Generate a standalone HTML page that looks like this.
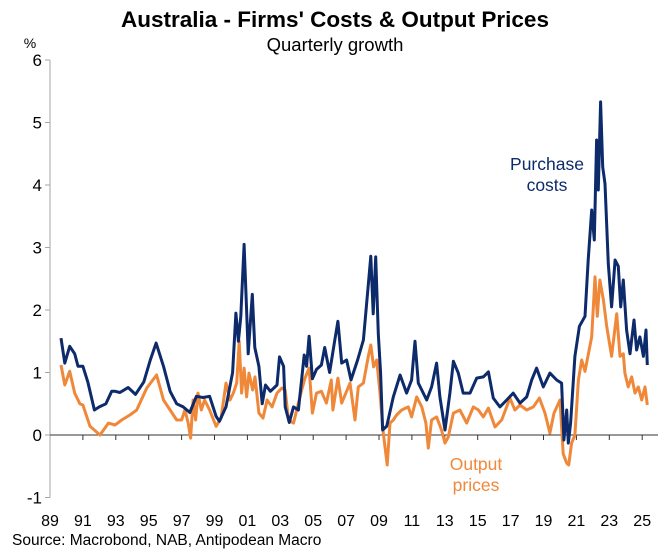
<!DOCTYPE html>
<html><head><meta charset="utf-8">
<style>
body{margin:0;background:#fff;font-family:"Liberation Sans",Arial,sans-serif;}
svg text{font-family:"Liberation Sans",Arial,sans-serif;}
</style></head>
<body>
<svg id="chart" width="670" height="549" viewBox="0 0 670 549" xmlns="http://www.w3.org/2000/svg">
<text x="335" y="27" text-anchor="middle" font-size="22.5" font-weight="bold" fill="#000">Australia - Firms' Costs &amp; Output Prices</text>
<text x="335" y="51" text-anchor="middle" font-size="18.5" fill="#000">Quarterly growth</text>
<text x="30" y="48" text-anchor="middle" font-size="14" fill="#000">%</text>
<g id="axes"></g>
<g id="series"></g>
<text x="547" y="170" text-anchor="middle" font-size="17.5" fill="#0d2a6b">Purchase</text>
<text x="547" y="191" text-anchor="middle" font-size="17.5" fill="#0d2a6b">costs</text>
<text x="476" y="470" text-anchor="middle" font-size="17.5" fill="#f0883a">Output</text>
<text x="476" y="491" text-anchor="middle" font-size="17.5" fill="#f0883a">prices</text>
<text x="12" y="545" font-size="15.5" fill="#000">Source: Macrobond, NAB, Antipodean Macro</text>
</svg>
<script>
const yTicks=[6,5,4,3,2,1,0,-1];
const xTickYears=[1989,1991,1993,1995,1997,1999,2001,2003,2005,2007,2009,2011,2013,2015,2017,2019,2021,2023,2025];
const xTickLabels=["89","91","93","95","97","99","01","03","05","07","09","11","13","15","17","19","21","23","25"];
const purchaseDates=[1989.67,1989.9,1990.2,1990.5,1990.7,1991.0,1991.3,1991.7,1992.0,1992.4,1992.75,1992.95,1993.25,1993.75,1994.2,1994.7,1995.1,1995.45,1995.9,1996.3,1996.7,1997.1,1997.5,1997.9,1998.3,1998.7,1999.1,1999.3,1999.7,2000.1,2000.3,2000.45,2000.6,2000.8,2000.95,2001.05,2001.3,2001.45,2001.7,2001.9,2002.1,2002.4,2002.8,2002.95,2003.2,2003.3,2003.55,2003.8,2004.1,2004.3,2004.45,2004.6,2004.75,2004.95,2005.2,2005.5,2005.7,2006.0,2006.3,2006.5,2006.73,2007.03,2007.3,2007.7,2008.05,2008.3,2008.5,2008.65,2008.8,2008.96,2009.1,2009.22,2009.47,2009.87,2010.28,2010.68,2010.98,2011.19,2011.39,2011.9,2012.2,2012.5,2012.7,2013.01,2013.31,2013.52,2013.82,2014.12,2014.53,2014.94,2015.34,2015.65,2015.95,2016.35,2016.76,2017.16,2017.57,2017.98,2018.28,2018.58,2018.99,2019.39,2019.8,2020.1,2020.24,2020.41,2020.51,2020.65,2020.91,2021.18,2021.52,2021.72,2021.93,2022.09,2022.23,2022.33,2022.47,2022.6,2022.74,2022.94,2023.14,2023.35,2023.55,2023.69,2023.85,2024.05,2024.26,2024.5,2024.66,2024.86,2025.07,2025.23,2025.31];
const purchaseValues=[1.55,1.15,1.42,1.3,1.1,1.1,0.85,0.4,0.45,0.5,0.7,0.7,0.68,0.76,0.65,0.85,1.2,1.47,1.1,0.7,0.5,0.45,0.36,0.62,0.6,0.62,0.3,0.22,0.45,1.0,1.95,1.5,1.9,3.05,2.0,1.3,2.25,1.4,1.1,0.5,0.8,0.7,0.8,1.25,1.1,0.45,0.2,0.45,0.4,0.9,1.28,1.1,1.58,0.9,1.05,1.12,1.4,1.0,1.5,1.82,1.15,1.2,0.88,1.2,1.52,2.26,2.86,1.94,2.85,1.62,0.99,0.08,0.14,0.61,0.96,0.67,0.88,1.5,0.83,0.56,0.77,1.15,0.61,0.08,0.67,1.18,0.99,0.67,0.67,0.91,0.93,1.01,0.59,0.45,0.56,0.67,0.51,0.61,0.88,1.07,0.77,0.99,0.88,0.83,-0.08,0.4,-0.13,0.19,1.26,1.74,1.9,2.8,3.6,3.12,4.72,3.92,5.33,4.29,4.02,2.74,2.05,2.8,2.7,2.05,2.48,1.68,1.3,1.84,1.36,1.57,1.26,1.68,1.12];
const outputDates=[1989.67,1989.9,1990.2,1990.5,1990.82,1991.0,1991.43,1992.04,1992.55,1992.95,1993.36,1993.86,1994.27,1994.88,1995.48,1995.9,1996.3,1996.7,1997.0,1997.2,1997.4,1997.55,1997.7,1997.85,1998.0,1998.2,1998.4,1998.7,1999.1,1999.4,1999.7,1999.94,2000.14,2000.35,2000.5,2000.65,2000.8,2000.95,2001.1,2001.32,2001.46,2001.7,2001.95,2002.2,2002.5,2002.8,2003.1,2003.3,2003.5,2003.8,2004.1,2004.3,2004.5,2004.75,2004.95,2005.2,2005.5,2005.8,2006.1,2006.2,2006.5,2006.73,2007.24,2007.54,2007.74,2008.05,2008.35,2008.5,2008.67,2008.86,2009.06,2009.26,2009.5,2009.67,2009.87,2010.07,2010.38,2010.78,2010.98,2011.29,2011.6,2011.85,2012.0,2012.2,2012.5,2012.8,2013.01,2013.21,2013.52,2013.92,2014.33,2014.73,2015.04,2015.34,2015.65,2016.05,2016.46,2016.96,2017.26,2017.57,2017.98,2018.38,2018.75,2019.09,2019.39,2019.64,2020.0,2020.2,2020.41,2020.53,2020.71,2020.91,2021.12,2021.32,2021.52,2021.73,2021.93,2022.13,2022.27,2022.43,2022.64,2022.84,2023.14,2023.45,2023.65,2023.85,2023.95,2024.15,2024.36,2024.56,2024.76,2024.97,2025.17,2025.31];
const outputValues=[1.12,0.8,1.02,0.67,0.5,0.48,0.14,0.0,0.19,0.16,0.24,0.32,0.4,0.75,0.96,0.56,0.4,0.24,0.24,0.4,0.19,-0.05,0.56,0.24,0.67,0.4,0.56,0.4,0.14,0.27,0.83,0.56,0.67,0.83,1.5,0.67,1.07,0.61,0.99,0.72,0.93,0.35,0.27,0.56,0.45,0.67,0.75,0.72,0.24,0.19,0.51,0.72,0.91,1.07,0.35,0.67,0.7,0.51,0.88,0.4,0.91,0.51,0.83,0.24,0.77,0.83,1.26,1.44,1.09,1.2,0.67,0.03,-0.48,0.19,0.24,0.32,0.4,0.45,0.29,0.61,0.45,0.19,-0.21,0.24,0.29,0.08,-0.13,-0.03,0.35,0.4,0.19,0.45,0.4,0.29,0.43,0.13,0.24,0.59,0.4,0.48,0.4,0.45,0.59,0.35,0.03,0.35,0.56,-0.3,-0.45,-0.48,-0.13,0.0,0.88,1.2,1.02,1.3,1.57,2.53,1.9,2.48,2.16,1.74,1.26,1.94,1.26,1.3,0.99,0.77,0.93,0.67,0.77,0.56,0.77,0.48];

const NS="http://www.w3.org/2000/svg";
const X0=50,X1=658,YTOP=60,YZERO=435,PXU=62.5,PXYR=16.45;
function xScale(yr){return X0+(yr-1989)*PXYR;}
function yScale(v){return YZERO-v*PXU;}
function mk(tag,attrs,parent){const e=document.createElementNS(NS,tag);for(const k in attrs)e.setAttribute(k,attrs[k]);parent.appendChild(e);return e;}
const axes=document.getElementById('axes');
let yl=mk('line',{x1:X0,y1:yScale(6),x2:X0,y2:yScale(-1),stroke:'#a6a6a6','stroke-width':1},axes);


yTicks.forEach(v=>{
  const t=mk('line',{x1:X0-5,y1:yScale(v),x2:X0,y2:yScale(v),stroke:'#a6a6a6','stroke-width':1},axes);
  
  
  const l=mk('text',{x:X0-8,y:yScale(v)+6,'text-anchor':'end','font-size':17,fill:'#000'},axes);
  l.textContent=String(v);
  
  
});
let xl=mk('line',{x1:X0,y1:YZERO,x2:X1,y2:YZERO,stroke:'#333','stroke-width':1},axes);


xTickYears.forEach((yr,i)=>{
  const x=xScale(yr);
  if(i>0){
    const t=mk('line',{x1:x,y1:YZERO,x2:x,y2:YZERO+5,stroke:'#333','stroke-width':1},axes);
    
    
  }
  const l=mk('text',{x:x,y:526,'text-anchor':'middle','font-size':16,fill:'#000'},axes);
  l.textContent=xTickLabels[i];
  
  
});
const series=document.getElementById('series');
function line(dates,vals,color,name){
  const d=dates.map((t,i)=>(i?'L':'M')+xScale(t).toFixed(1)+','+yScale(vals[i]).toFixed(1)).join(' ');
  const p=mk('path',{d:d,fill:'none',stroke:color,'stroke-width':3,'stroke-linejoin':'round'},series);
  
  
}
line(outputDates,outputValues,'#f0883a','output-prices-line');
line(purchaseDates,purchaseValues,'#0d2a6b','purchase-costs-line');
</script>
</body></html>
